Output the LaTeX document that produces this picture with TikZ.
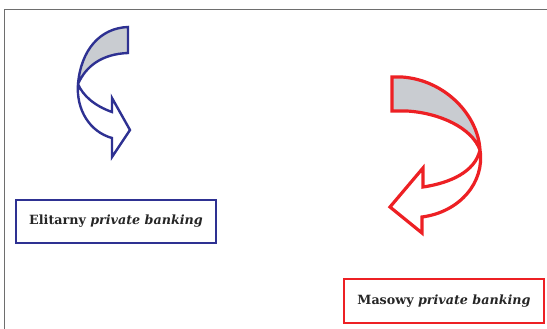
\documentclass[tikz,border=0pt]{standalone}
\usepackage{fontspec}
\setmainfont{DejaVu Serif}
\definecolor{ablue}{HTML}{2E3192}
\definecolor{ared}{HTML}{ED2024}
\definecolor{agray}{HTML}{C9CCD1}
\definecolor{aframe}{HTML}{6E6E6E}
\begin{document}
\begin{tikzpicture}[x=1pt,y=-1pt,line join=miter,
  labelbox/.style={draw,line width=2pt,minimum width=#1,minimum height=43pt,inner sep=0pt,font=\fontsize{12.7}{15}\selectfont\bfseries,text=black!85}]
\useasboundingbox (0,0) rectangle (547,329);
\draw[aframe,line width=1.8pt] (4.5,329) -- (4.5,9.5) -- (547,9.5);
% blue arrow
\fill[agray] (128,27) .. controls (100,28) and (81,50) .. (78,84)
  .. controls (86,66) and (102,54) .. (128,53) -- cycle;
\draw[ablue,line width=2.4pt] (128,27) .. controls (100,28) and (81,50) .. (78,84)
  .. controls (76,110) and (90,132) .. (112,138)
  -- (112,157) -- (130,130) -- (112,98) -- (112,112)
  .. controls (95,106) and (83,96) .. (78,84)
  .. controls (86,66) and (102,54) .. (128,53) -- cycle;
% red arrow
\fill[agray] (392,77) -- (402,77) .. controls (445,80) and (478,115) .. (480,150)
  .. controls (472,128) and (440,113) .. (407,111) -- (392,111) -- cycle;
\draw[ared,line width=3.2pt] (392,77) -- (402,77) .. controls (445,80) and (478,115) .. (480,150)
  .. controls (485,182) and (460,212) .. (422,217)
  -- (422,233) -- (390,207) -- (423,168) -- (423,187)
  .. controls (450,183) and (475,172) .. (480,150)
  .. controls (472,128) and (440,113) .. (407,111) -- (392,111) -- cycle;
\node[labelbox=200pt,draw=ablue] (elit) at (116,221.5) {Elitarny \textit{private banking}};
\node[labelbox=200pt,minimum height=44pt,draw=ared] (mas) at (444,301) {Masowy \textit{private banking}};
\end{tikzpicture}
\end{document}
